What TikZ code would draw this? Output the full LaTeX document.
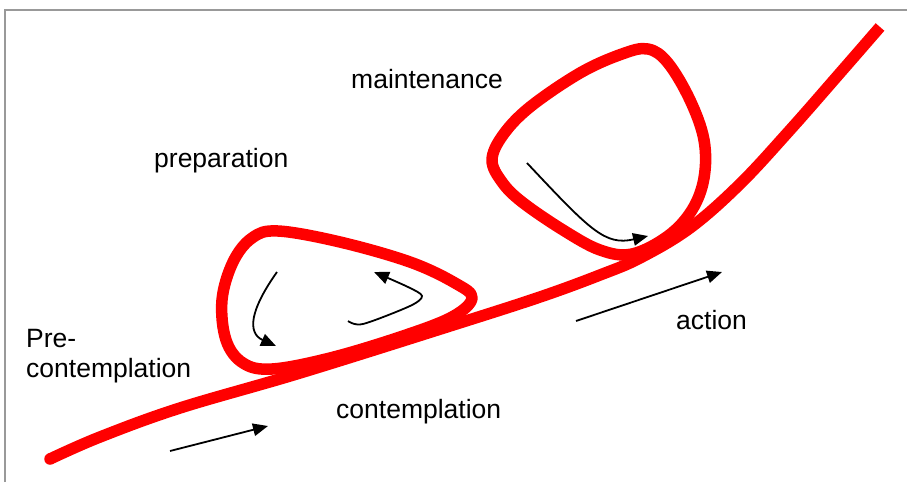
\documentclass[tikz,border=0pt]{standalone}
\usepackage{fontspec}
\setmainfont{Liberation Sans}
\usetikzlibrary{arrows.meta}
\begin{document}
\begin{tikzpicture}[x=1pt, y=-1pt,
  redline/.style={draw=red, line width=11.5pt, line join=round},
  cyclearrow/.style={line width=1.8pt, -{Triangle[length=15pt,width=12.5pt]}},
  stagelabel/.style={inner sep=0pt, anchor=base west, font=\fontsize{26.5}{30}\selectfont},
  frameline/.style={draw=black!40, line width=1.8pt}]
\useasboundingbox (0,0) rectangle (907,482);

% open frame: left and top edges only
\draw[frameline] (5,482) -- (5,10) -- (907,10);

% the rising red path of change
\draw[redline, line cap=butt] plot[smooth, tension=0.6] coordinates
  {(50,459) (100,437) (180,408) (300,373) (450,326) (540,297) (600,275)
   (640,258) (690,228) (740,184) (790,130) (840,73) (880,27)};
\fill[red] (50,459) circle (5.75pt);

% lower loop (preparation)
\draw[redline] plot[smooth cycle, tension=0.6] coordinates
  {(472,298) (455,283) (410,262) (340,242) (278,231) (252,238) (233,262)
   (222,300) (226,340) (243,363) (272,369) (330,358) (400,337) (452,317)};

% upper loop (maintenance)
\draw[redline] plot[smooth cycle, tension=0.6] coordinates
  {(632,254) (668,236) (692,210) (704,178) (704,140) (690,100) (668,63)
   (648,49) (622,54) (580,73) (530,107) (503,135) (492,160) (502,182)
   (522,202) (563,230) (600,250)};

% direction arrows
\coordinate (a1s) at (170,451); \coordinate (a1e) at (268,426);
\coordinate (a2s) at (576,321); \coordinate (a2e) at (722,272);
\coordinate (a3s) at (277,272); \coordinate (a3e) at (276,346);
\coordinate (a4s) at (348,321); \coordinate (a4e) at (374,272);
\coordinate (a5s) at (527,163); \coordinate (a5e) at (648,236);

\draw[cyclearrow] (a1s) -- (a1e);
\draw[cyclearrow] (a2s) -- (a2e);
\draw[cyclearrow] (a3s) .. controls (250,310) and (247,333) .. (a3e);
\draw[cyclearrow] plot[smooth, tension=0.5] coordinates
  {(a4s) (363,324) (410,306) (422,296) (408,287) (a4e)};
\draw[cyclearrow] (a5s) .. controls (590,230) and (605,246) .. (a5e);

% stage labels
\node[stagelabel] (maint) at (351,88) {maintenance};
\node[stagelabel] (prep) at (154,167) {preparation};
\node[stagelabel, align=left] (precont) at (26,377) {Pre-\\contemplation};
\node[stagelabel] (cont) at (336,418) {contemplation};
\node[stagelabel] (act) at (676,329) {action};
\end{tikzpicture}
\end{document}
